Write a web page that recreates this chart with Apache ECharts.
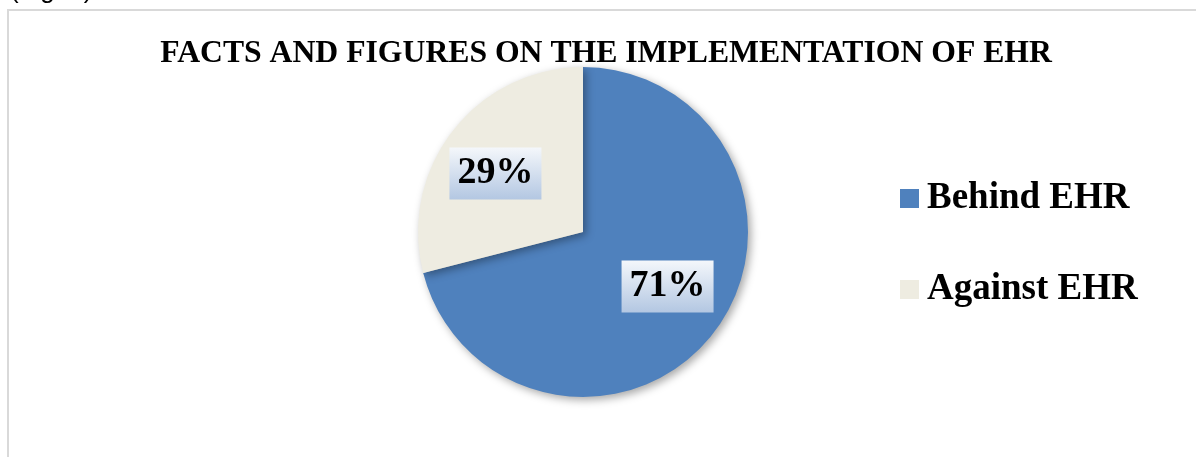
<!DOCTYPE html>
<html>
<head>
<meta charset="utf-8">
<script src="https://cdn.jsdelivr.net/npm/echarts@6/dist/echarts.min.js"></script>
<style>
html, body { margin: 0; padding: 0; background: #fff; }
#main { width: 1196px; height: 457px; }
</style>
</head>
<body>
<div id="main"></div>
<script>
var categories = ['Behind EHR', 'Against EHR'];
var values = [71, 29];
var colors = ['#4f81bd', '#eeece1'];
var labelOffsets = [[17, 2], [-20, -6]];

var chart = echarts.init(document.getElementById('main'));

var pieData = [];
for (var i = 0; i < categories.length; i++) {
    pieData.push({
        name: categories[i],
        value: values[i],
        itemStyle: { color: colors[i] },
        label: { offset: labelOffsets[i] }
    });
}

var serif = '"Liberation Serif", "DejaVu Serif", serif';

var option = {
    animation: false,
    title: {
        text: 'FACTS AND FIGURES ON THE IMPLEMENTATION OF EHR',
        left: 601,
        top: 33,
        textAlign: 'center',
        textStyle: { fontFamily: serif, fontWeight: 'bold', fontSize: 31.7, color: '#000' }
    },
    graphic: [
        {
            type: 'rect',
            shape: { x: 8, y: 10, width: 1200, height: 460 },
            style: { fill: 'none', stroke: '#d9d9d9', lineWidth: 2 },
            silent: true
        },
        {
            type: 'text',
            left: 10,
            top: -22,
            style: { text: '(Fig. 1)', fontFamily: '"Liberation Sans", sans-serif', fontSize: 26, fill: '#000' }
        }
    ],
    legend: {
        orient: 'vertical',
        left: 895,
        top: 175,
        itemWidth: 19,
        itemHeight: 19,
        itemGap: 54,
        icon: 'rect',
        data: categories,
        textStyle: { fontFamily: serif, fontWeight: 'bold', fontSize: 37, color: '#000', padding: [0, 0, 0, 3] }
    },
    series: [
        {
            type: 'pie',
            center: [583, 232],
            radius: 165,
            startAngle: 90,
            clockwise: true,
            data: pieData,
            itemStyle: {
                shadowBlur: 8,
                shadowColor: 'rgba(0,0,0,0.35)',
                shadowOffsetX: 3,
                shadowOffsetY: 3
            },
            label: {
                show: true,
                position: 'inside',
                formatter: '{d}%',
                fontFamily: serif,
                fontWeight: 'bold',
                fontSize: 38,
                color: '#000',
                padding: [8, 8, 6, 8],
                backgroundColor: new echarts.graphic.LinearGradient(0, 0, 0, 1, [
                    { offset: 0, color: '#f4f7fb' },
                    { offset: 1, color: '#b3c7e2' }
                ])
            },
            labelLine: { show: false },
            emphasis: { disabled: true }
        }
    ]
};
chart.setOption(option);
</script>
</body>
</html>
